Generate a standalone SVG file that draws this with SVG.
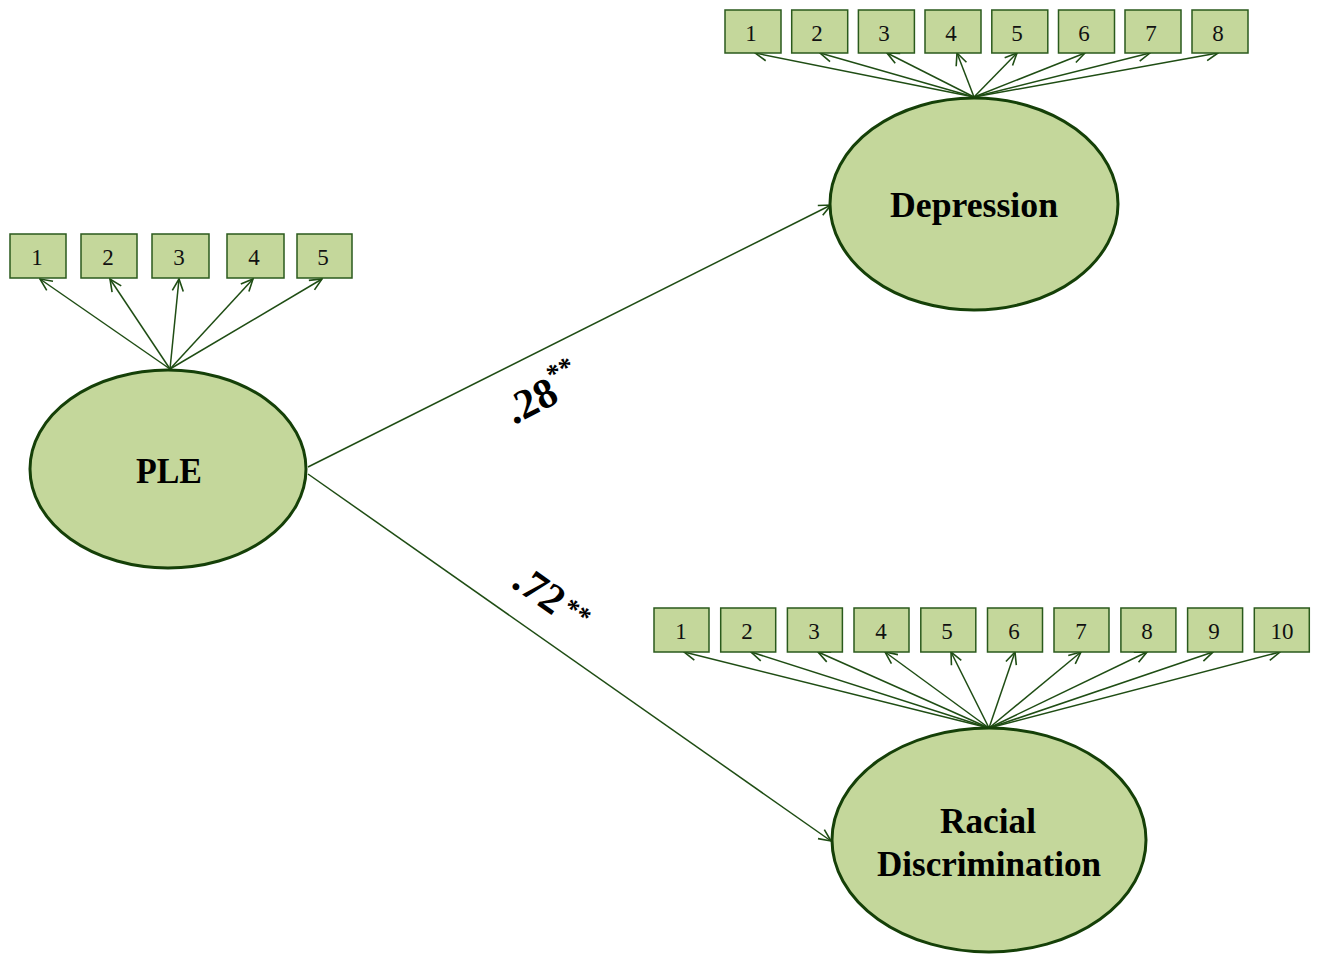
<svg xmlns="http://www.w3.org/2000/svg" width="1319" height="954" viewBox="0 0 1319 954">
<defs>
<marker id="arr" viewBox="0 0 14 14" refX="13" refY="7" markerWidth="14" markerHeight="14" markerUnits="userSpaceOnUse" orient="auto">
<path d="M1,1.5 L13,7 L1,12.5" fill="none" stroke="#1f4d14" stroke-width="1.6"/>
</marker>
<style>
.lat{fill:#c4d79b;stroke:#154008;stroke-width:3}
.box{fill:#c4d79b;stroke:#2a5a1c;stroke-width:1.5}
.num{font-family:"Liberation Serif",serif;font-size:23px;fill:#111;text-anchor:middle}
.lbl{font-family:"Liberation Serif",serif;font-size:36px;font-weight:bold;fill:#000;text-anchor:middle}
.coef{font-family:"Liberation Serif",serif;font-size:42px;font-weight:bold;fill:#000}
.ln{stroke:#1f4d14;stroke-width:1.5;fill:none}
</style>
</defs>
<rect width="1319" height="954" fill="#fff"/>
<g id="connectors">
<line class="ln" x1="308" y1="467" x2="831" y2="205" marker-end="url(#arr)"/>
<line class="ln" x1="308" y1="474" x2="831" y2="841" marker-end="url(#arr)"/>
<line class="ln" x1="170" y1="369" x2="40" y2="279" marker-end="url(#arr)"/>
<line class="ln" x1="170" y1="369" x2="110" y2="279" marker-end="url(#arr)"/>
<line class="ln" x1="170" y1="369" x2="179" y2="279" marker-end="url(#arr)"/>
<line class="ln" x1="170" y1="369" x2="253" y2="279" marker-end="url(#arr)"/>
<line class="ln" x1="170" y1="369" x2="322" y2="279" marker-end="url(#arr)"/>
<line class="ln" x1="974" y1="97" x2="755" y2="53" marker-end="url(#arr)"/>
<line class="ln" x1="974" y1="97" x2="820" y2="53" marker-end="url(#arr)"/>
<line class="ln" x1="974" y1="97" x2="887" y2="53" marker-end="url(#arr)"/>
<line class="ln" x1="974" y1="97" x2="957" y2="53" marker-end="url(#arr)"/>
<line class="ln" x1="974" y1="97" x2="1017" y2="53" marker-end="url(#arr)"/>
<line class="ln" x1="974" y1="97" x2="1085" y2="53" marker-end="url(#arr)"/>
<line class="ln" x1="974" y1="97" x2="1150" y2="53" marker-end="url(#arr)"/>
<line class="ln" x1="974" y1="97" x2="1218" y2="53" marker-end="url(#arr)"/>
<line class="ln" x1="989" y1="728" x2="684" y2="652" marker-end="url(#arr)"/>
<line class="ln" x1="989" y1="728" x2="751" y2="652" marker-end="url(#arr)"/>
<line class="ln" x1="989" y1="728" x2="818" y2="652" marker-end="url(#arr)"/>
<line class="ln" x1="989" y1="728" x2="885" y2="652" marker-end="url(#arr)"/>
<line class="ln" x1="989" y1="728" x2="951" y2="652" marker-end="url(#arr)"/>
<line class="ln" x1="989" y1="728" x2="1015" y2="652" marker-end="url(#arr)"/>
<line class="ln" x1="989" y1="728" x2="1081" y2="652" marker-end="url(#arr)"/>
<line class="ln" x1="989" y1="728" x2="1147" y2="652" marker-end="url(#arr)"/>
<line class="ln" x1="989" y1="728" x2="1213" y2="652" marker-end="url(#arr)"/>
<line class="ln" x1="989" y1="728" x2="1280" y2="652" marker-end="url(#arr)"/>
</g>
<g id="PLE">
<ellipse class="lat" cx="168" cy="469" rx="138" ry="99"/>
<text class="lbl" x="169" y="483" textLength="66" lengthAdjust="spacingAndGlyphs">PLE</text>
</g>
<g id="Depression">
<ellipse class="lat" cx="974" cy="204" rx="144" ry="106"/>
<text class="lbl" x="974" y="217" textLength="168" lengthAdjust="spacingAndGlyphs">Depression</text>
</g>
<g id="RacialDiscrimination">
<ellipse class="lat" cx="989" cy="840" rx="157" ry="112"/>
<text class="lbl" x="988" y="833" textLength="96" lengthAdjust="spacingAndGlyphs">Racial</text>
<text class="lbl" x="989" y="876" textLength="224" lengthAdjust="spacingAndGlyphs">Discrimination</text>
</g>
<g id="PLE_items">
<rect class="box" x="10" y="234" width="56" height="44"/><text class="num" x="37" y="265">1</text>
<rect class="box" x="81" y="234" width="56" height="44"/><text class="num" x="108" y="265">2</text>
<rect class="box" x="152" y="234" width="57" height="44"/><text class="num" x="179" y="265">3</text>
<rect class="box" x="227" y="234" width="57" height="44"/><text class="num" x="254" y="265">4</text>
<rect class="box" x="297" y="234" width="55" height="44"/><text class="num" x="323" y="265">5</text>
</g>
<g id="Depression_items">
<rect class="box" x="725" y="10" width="56" height="43"/><text class="num" x="751" y="41">1</text>
<rect class="box" x="791.7" y="10" width="56" height="43"/><text class="num" x="817" y="41">2</text>
<rect class="box" x="858.4" y="10" width="56" height="43"/><text class="num" x="884" y="41">3</text>
<rect class="box" x="925" y="10" width="56" height="43"/><text class="num" x="951" y="41">4</text>
<rect class="box" x="991.8" y="10" width="56" height="43"/><text class="num" x="1017" y="41">5</text>
<rect class="box" x="1058.5" y="10" width="56" height="43"/><text class="num" x="1084" y="41">6</text>
<rect class="box" x="1125" y="10" width="56" height="43"/><text class="num" x="1151" y="41">7</text>
<rect class="box" x="1192" y="10" width="56" height="43"/><text class="num" x="1218" y="41">8</text>
</g>
<g id="Racial_items">
<rect class="box" x="654" y="608" width="55" height="44"/><text class="num" x="681" y="639">1</text>
<rect class="box" x="720.7" y="608" width="55" height="44"/><text class="num" x="747" y="639">2</text>
<rect class="box" x="787.4" y="608" width="55" height="44"/><text class="num" x="814" y="639">3</text>
<rect class="box" x="854" y="608" width="55" height="44"/><text class="num" x="881" y="639">4</text>
<rect class="box" x="920.8" y="608" width="55" height="44"/><text class="num" x="947" y="639">5</text>
<rect class="box" x="987.5" y="608" width="55" height="44"/><text class="num" x="1014" y="639">6</text>
<rect class="box" x="1054" y="608" width="55" height="44"/><text class="num" x="1081" y="639">7</text>
<rect class="box" x="1120.9" y="608" width="55" height="44"/><text class="num" x="1147" y="639">8</text>
<rect class="box" x="1187.6" y="608" width="55" height="44"/><text class="num" x="1214" y="639">9</text>
<rect class="box" x="1254.3" y="608" width="55" height="44"/><text class="num" x="1282" y="639">10</text>
</g>
<g id="labels">
<text class="coef" transform="translate(514,425) rotate(-27)">.28<tspan font-size="27" dy="-19">**</tspan></text>
<text class="coef" transform="translate(510,586) rotate(35)">.72<tspan font-size="27" dx="4" dy="-8">**</tspan></text>
</g>
</svg>
